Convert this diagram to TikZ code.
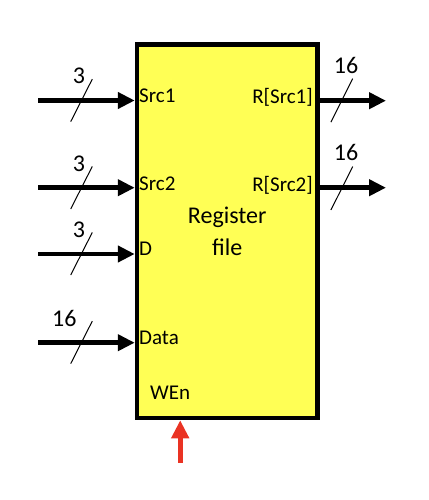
\documentclass[tikz,border=0pt]{standalone}
\usepackage{fontspec}
\setmainfont{Carlito}
\usetikzlibrary{arrows.meta}
\definecolor{regyellow}{RGB}{255,255,85}
\definecolor{wenred}{RGB}{234,51,35}
\tikzset{
  x=1pt,y=1pt,
  bus/.style={line width=4.5pt,-{Triangle[length=17pt,width=16pt]}},
  portlbl/.style={inner sep=0pt,font=\fontsize{21}{25}\selectfont},
  widthlbl/.style={inner sep=0pt,anchor=base,font=\fontsize{24}{28}\selectfont},
  buslash/.style={line width=1pt},
}
\begin{document}
\begin{tikzpicture}
\useasboundingbox (0,0) rectangle (428,-500);
% register file block
\node[draw,fill=regyellow,line width=4.5pt,inner sep=0pt,
      minimum width=180.5pt,minimum height=373.5pt] (rf) at (227.25,-231.25) {};
\node[inner sep=0pt,align=center,font=\fontsize{24}{32}\selectfont] (title) at (227.25,-231.5) {Register\\file};

% port labels
\node[portlbl,anchor=base west] (lsrc1) at (139,-102.3) {Src1};
\node[portlbl,anchor=base west] (lsrc2) at (139,-190.7) {Src2};
\node[portlbl,anchor=base west] (ld) at (139,-255) {D};
\node[portlbl,anchor=base west] (ldata) at (139,-344.3) {Data};
\node[portlbl,anchor=base east] (lr1) at (313,-104) {R[Src1]};
\node[portlbl,anchor=base east] (lr2) at (313,-191.7) {R[Src2]};
\node[portlbl,anchor=base west] (lwen) at (150,-399.3) {WEn};

% input bus start points
\coordinate (isrc1) at (38,-100.5);
\coordinate (isrc2) at (38,-187.7);
\coordinate (id) at (38,-254);
\coordinate (idata) at (38,-342.7);
% output bus end points
\coordinate (or1) at (386,-100.7);
\coordinate (or2) at (386,-187.7);
% write enable start
\coordinate (iwen) at (180.2,-462.5);

% input buses
\draw[bus] (isrc1) -- (isrc1 -| rf.west);
\draw[bus] (isrc2) -- (isrc2 -| rf.west);
\draw[bus] (id) -- (id -| rf.west);
\draw[bus] (idata) -- (idata -| rf.west);
% output buses
\draw[bus] (or1 -| rf.east) -- (or1);
\draw[bus] (or2 -| rf.east) -- (or2);
% write enable
\draw[wenred,line width=5pt,-{Triangle[length=18pt,width=17pt]}] (iwen) -- (iwen |- rf.south);

% bus width slashes
\coordinate (ss1) at (81.5,-100.4);
\coordinate (ss2) at (81.5,-187.7);
\coordinate (ssd) at (81.5,-253.7);
\coordinate (ssdata) at (81.5,-342.4);
\coordinate (sr1) at (341.8,-100.4);
\coordinate (sr2) at (341.8,-188.3);
\foreach \c in {ss1,ss2,ssd,ssdata}
  \draw[buslash] ([shift={(-10.8,-21.3)}]\c) -- ([shift={(10.8,21.3)}]\c);
\foreach \c in {sr1,sr2}
  \draw[buslash] ([shift={(-10.9,-21.7)}]\c) -- ([shift={(10.9,21.7)}]\c);

% bus widths
\node[widthlbl] (w1) at (79,-84) {3};
\node[widthlbl] (w2) at (79,-171.7) {3};
\node[widthlbl] (w3) at (79,-237.7) {3};
\node[widthlbl] (w4) at (64.3,-326) {16};
\node[widthlbl] (w5) at (346,-73.3) {16};
\node[widthlbl] (w6) at (346,-160.7) {16};
\end{tikzpicture}
\end{document}
